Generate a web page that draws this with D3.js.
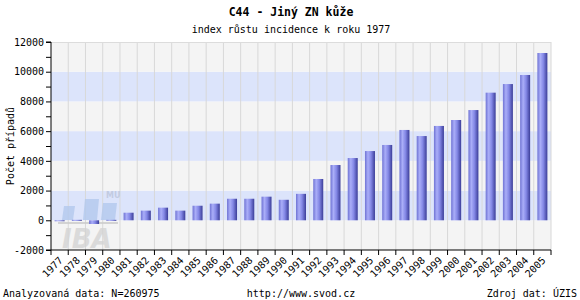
<!DOCTYPE html>
<html lang="cs">
  <head>
    <meta charset="utf-8">
    <title>C44 - Jiný ZN kůže</title>
    <script src="https://d3js.org/d3.v7.min.js"></script>
    <style>
      body { margin: 0; background: white; }
      text { font-family: "DejaVu Sans Mono", monospace; fill: #000; }
    </style>
  </head>
  <body>
    <div id="chart"></div>
    <script type="text/javascript">

      var years = ["1977","1978","1979","1980","1981","1982","1983","1984","1985","1986",
                   "1987","1988","1989","1990","1991","1992","1993","1994","1995","1996",
                   "1997","1998","1999","2000","2001","2002","2003","2004","2005"];
      var values = [0, 30, -250, 30, 510, 650, 850, 650, 980, 1120,
                    1450, 1450, 1590, 1380, 1780, 2780, 3720, 4190, 4660, 5070,
                    6080, 5670, 6350, 6750, 7420, 8590, 9170, 9780, 11260];
      var yTicks = [-2000, 0, 2000, 4000, 6000, 8000, 10000, 12000];

      var title = "C44 - Jiný ZN kůže";
      var subtitle = "index růstu incidence k roku 1977";
      var yTitle = "Počet případů";

      var svgWidth = 580, svgHeight = 300;
      var margin = {top: 42, right: 29, bottom: 50, left: 51};
      var plotW = svgWidth - margin.left - margin.right;
      var plotH = svgHeight - margin.top - margin.bottom;

      var svg = d3.select("#chart").append("svg")
        .attr("width", svgWidth)
        .attr("height", svgHeight);

      var defs = svg.append("defs");
      var grad = defs.append("linearGradient")
        .attr("id", "barGrad")
        .attr("x1", "0%").attr("x2", "100%")
        .attr("y1", "0%").attr("y2", "0%");
      grad.append("stop").attr("offset", "0%").attr("stop-color", "#6f73d4");
      grad.append("stop").attr("offset", "30%").attr("stop-color", "#aaaef8");
      grad.append("stop").attr("offset", "60%").attr("stop-color", "#8488e6");
      grad.append("stop").attr("offset", "100%").attr("stop-color", "#3b3d98");

      var x = d3.scaleBand()
        .domain(years)
        .range([margin.left, margin.left + plotW]);

      var y = d3.scaleLinear()
        .domain([-2000, 12000])
        .range([margin.top + plotH, margin.top]);

      // alternating bands
      var bands = d3.range(yTicks.length - 1);
      svg.selectAll("rect.band")
        .data(bands)
        .enter()
        .append("rect")
        .attr("class", "band")
        .attr("x", margin.left)
        .attr("width", plotW)
        .attr("y", i => y(yTicks[i + 1]))
        .attr("height", i => y(yTicks[i]) - y(yTicks[i + 1]))
        .attr("fill", i => (i % 2 == 1) ? "#dce4fb" : "#f4f4f4");

      // vertical grid
      svg.selectAll("line.vgrid")
        .data(years.slice(1).concat(["end"]))
        .enter()
        .append("line")
        .attr("class", "vgrid")
        .attr("x1", d => d == "end" ? margin.left + plotW : x(d))
        .attr("x2", d => d == "end" ? margin.left + plotW : x(d))
        .attr("y1", margin.top)
        .attr("y2", margin.top + plotH)
        .attr("stroke", "#d8d8d8")
        .attr("stroke-width", 1);

      svg.append("line")
        .attr("x1", margin.left).attr("x2", margin.left + plotW)
        .attr("y1", margin.top + 0.5).attr("y2", margin.top + 0.5)
        .attr("stroke", "#dcdcdc");

      // watermark (IBA MU)
      var wm = svg.append("g").attr("opacity", 0.8);
      var wmBars = [[62, 206, 11, 14], [83, 199, 14, 21], [101, 203, 14, 17]];
      wm.selectAll("path")
        .data(wmBars)
        .enter()
        .append("path")
        .attr("d", d => "M" + d[0] + "," + (d[1] + d[3]) + " L" + (d[0] + 2) + "," + d[1] +
                        " L" + (d[0] + d[2] + 2) + "," + d[1] + " L" + (d[0] + d[2]) + "," + (d[1] + d[3]) + " Z")
        .attr("fill", "#b3c9ee");
      wm.append("rect")
        .attr("x", 58).attr("y", 222).attr("width", 60).attr("height", 2)
        .attr("fill", "#cccccc");
      wm.append("text")
        .attr("x", 106).attr("y", 198)
        .style("font-family", "DejaVu Sans, sans-serif")
        .style("font-size", "8px")
        .style("font-weight", "bold")
        .style("fill", "#bcc6dc")
        .text("MU");
      wm.append("text")
        .attr("x", 62).attr("y", 248)
        .style("font-family", "DejaVu Sans, sans-serif")
        .style("font-size", "26px")
        .style("font-weight", "bold")
        .style("font-style", "italic")
        .style("fill", "#d4d4d4")
        .text("IBA");

      // bars
      var barW = 10;
      svg.selectAll("rect.bar")
        .data(values)
        .enter()
        .append("rect")
        .attr("class", "bar")
        .attr("x", (d, i) => x(years[i]) + x.bandwidth() / 2 - barW / 2)
        .attr("width", barW)
        .attr("y", d => Math.min(y(d), y(0)))
        .attr("height", d => Math.max(1, Math.abs(y(d) - y(0))))
        .attr("fill", "url(#barGrad)");

      // y axis
      var yAxis = d3.axisLeft(y)
        .tickValues(d3.range(-2000, 12001, 1000))
        .tickSize(5)
        .tickFormat(d => yTicks.indexOf(d) >= 0 ? d : "");
      var gy = svg.append("g")
        .attr("transform", `translate(${margin.left},0)`)
        .call(yAxis);
      gy.select(".domain").attr("stroke", "#000").attr("d", `M-5,${margin.top}H0V${margin.top + plotH}H-5`);
      gy.selectAll(".tick line").attr("stroke", "#000");
      gy.selectAll(".tick text")
        .attr("x", -7)
        .style("font-family", "DejaVu Sans Mono, monospace")
        .style("font-size", "10px");

      // x axis
      var xAxis = d3.axisBottom(x).tickSize(0).tickFormat("");
      var gx = svg.append("g")
        .attr("transform", `translate(0,${margin.top + plotH})`)
        .call(xAxis);
      gx.select(".domain").attr("stroke", "#000").attr("d", `M${margin.left},0H${margin.left + plotW}`);
      svg.selectAll("line.xtick")
        .data(years.concat(["end"]))
        .enter()
        .append("line")
        .attr("class", "xtick")
        .attr("x1", d => d == "end" ? margin.left + plotW : x(d))
        .attr("x2", d => d == "end" ? margin.left + plotW : x(d))
        .attr("y1", margin.top + plotH)
        .attr("y2", margin.top + plotH + 5)
        .attr("stroke", "#000");

      svg.selectAll("text.xlab")
        .data(years)
        .enter()
        .append("text")
        .attr("class", "xlab")
        .attr("text-anchor", "end")
        .attr("transform", d => `translate(${x(d) + x.bandwidth() / 2 + 4},${margin.top + plotH + 11}) rotate(-45)`)
        .style("font-size", "10px")
        .text(d => d);

      // titles
      svg.append("text")
        .attr("x", 291).attr("y", 16)
        .attr("text-anchor", "middle")
        .style("font-size", "11.5px")
        .style("font-weight", "bold")
        .text(title);

      svg.append("text")
        .attr("x", 291).attr("y", 33)
        .attr("text-anchor", "middle")
        .style("font-size", "10px")
        .text(subtitle);

      svg.append("text")
        .attr("transform", `translate(14,${margin.top + plotH / 2}) rotate(-90)`)
        .attr("text-anchor", "middle")
        .style("font-size", "10px")
        .text(yTitle);

      // footer
      svg.append("text")
        .attr("x", 3).attr("y", 297)
        .style("font-size", "10px")
        .text("Analyzovaná data: N=260975");
      svg.append("text")
        .attr("x", 301).attr("y", 297)
        .attr("text-anchor", "middle")
        .style("font-size", "10px")
        .text("http://www.svod.cz");
      svg.append("text")
        .attr("x", 577).attr("y", 297)
        .attr("text-anchor", "end")
        .style("font-size", "10px")
        .text("Zdroj dat: ÚZIS");

    </script>
  </body>
</html>
